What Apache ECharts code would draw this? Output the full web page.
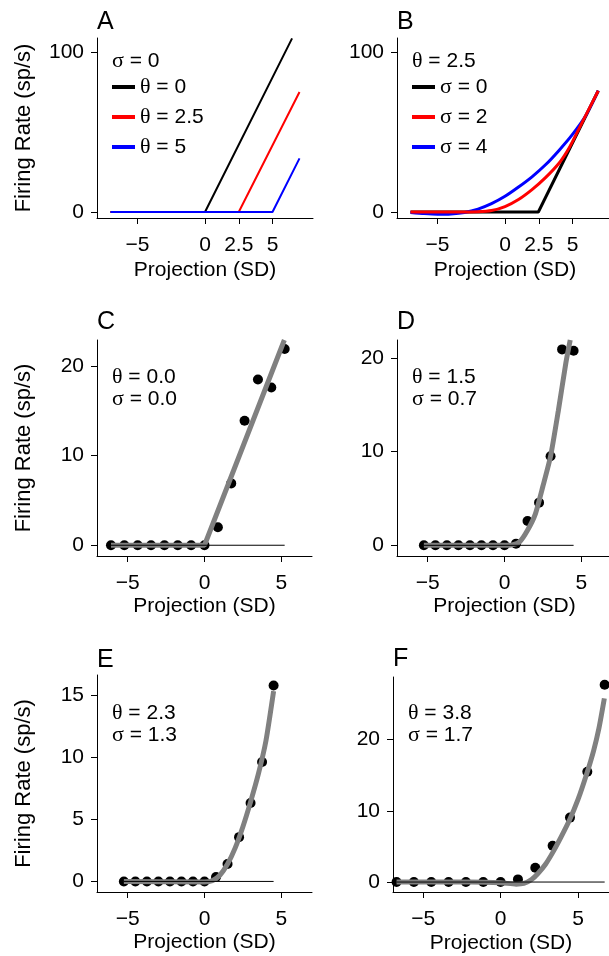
<!DOCTYPE html>
<html>
<head>
<meta charset="utf-8">
<script src="https://cdn.jsdelivr.net/npm/echarts@6/dist/echarts.min.js"></script>
<style>
  html, body { margin: 0; padding: 0; background: #fff; }
  #chart { width: 609px; height: 956px; }
</style>
</head>
<body>
<div id="chart"></div>
<script>
// ---- Panel A: threshold-linear responses, sigma = 0 ----
const aNames = ['θ = 0', 'θ = 2.5', 'θ = 5'];
const aTheta0 = [[-7, 0], [0, 0], [6.45, 108.5]];
const aTheta25 = [[-7, 0], [2.5, 0], [7, 75]];
const aTheta5 = [[-7, 0], [5, 0], [7, 33.5]];

// ---- Panel B: theta = 2.5 with increasing sigma ----
const bNames = ['σ = 0', 'σ = 2', 'σ = 4'];
const bSigma0 = [[-7, 0], [2.47, 0], [6.91, 75.8]];
const bSigma2 = [[-7, 0], [-3, 0], [-2, 0.1], [-1, 0.9], [0, 3.4], [1, 7.8], [2, 14.0], [3, 21.5],
                 [4, 30.5], [4.57, 37.5], [5, 44], [5.8, 57.4], [6.91, 75.8]];
const bSigma4 = [[-7, -0.3], [-6, -1.0], [-5, -1.4], [-4, -1.2], [-3, -0.3], [-2, 1.8], [-1, 5.2],
                 [0, 9.8], [1, 15.6], [2, 22], [3, 29.5], [4, 38.5], [5, 48.5], [6, 60.5], [6.91, 75.8]];

const abXTicks = [-5, 0, 2.5, 5];
const abYTicks = [0, 100];

// ---- Panels C-F: measured rates and fitted curves ----
const cX = [-6.09, -5.22, -4.35, -3.48, -2.61, -1.74, -0.87, 0, 0.87, 1.74, 2.61, 3.48, 4.35, 5.22];
const cY = [0, 0, 0, 0, 0, 0, 0, 0, 2.0, 6.9, 13.9, 18.5, 17.6, 21.9];
const cFit = [[-6.09, 0], [0, 0], [5.2, 22.9]];

const dX = [-5.25, -4.5, -3.75, -3, -2.25, -1.5, -0.75, 0, 0.75, 1.5, 2.25, 3, 3.75, 4.5];
const dY = [0, 0, 0, 0, 0, 0, 0, 0, 0.18, 2.6, 4.55, 9.5, 20.9, 20.75];
const dFit = [[-5.25, 0], [0, 0], [0.5, 0.05], [1.0, 0.4], [1.5, 1.6], [2.0, 3.3], [2.5, 6.3],
              [3.0, 9.5], [3.5, 14.3], [4.0, 19.5], [4.28, 21.9]];

const eX = [-5.25, -4.5, -3.75, -3, -2.25, -1.5, -0.75, 0, 0.75, 1.5, 2.25, 3, 3.75, 4.5];
const eY = [0, 0, 0, 0, 0, 0, 0, 0, 0.35, 1.4, 3.56, 6.3, 9.6, 15.75];
const eFit = [[-5.25, 0], [0, -0.05], [0.5, 0.05], [1.0, 0.5], [1.5, 1.4], [2.0, 2.7], [2.5, 4.4],
              [3.0, 6.4], [3.5, 8.6], [4.0, 11.3], [4.5, 15.3]];

const fX = [-6.72, -5.6, -4.48, -3.36, -2.24, -1.12, 0, 1.12, 2.24, 3.36, 4.48, 5.6, 6.72];
const fY = [0, 0, 0, 0, 0, 0, 0, 0.37, 2.0, 5.1, 9.05, 15.5, 27.7];
const fFit = [[-6.72, 0], [-2, 0], [0, -0.1], [1.0, -0.3], [1.5, -0.2], [2.0, 0.35], [2.41, 1.2],
              [2.9, 2.5], [3.38, 4.2], [3.9, 6.3], [4.45, 8.7], [5.0, 11.6], [5.53, 15.0],
              [6.0, 18.4], [6.35, 21.6], [6.7, 25.8]];

const cdefXTicks = [-5, 0, 5];
const cYTicks = [0, 10, 20];
const dYTicks = [0, 10, 20];
const eYTicks = [0, 5, 10, 15];
const fYTicks = [0, 10, 20];

const fitParams = [
  ['0.0', '0.0'],
  ['1.5', '0.7'],
  ['2.3', '1.3'],
  ['3.8', '1.7']
];

// ---- styling ----
const FONT = '"Liberation Sans", Arial, Helvetica, sans-serif';
const GREEK = '"Liberation Serif", "DejaVu Serif", serif';
const FS = 21;
const greekRich = { g: { fontFamily: GREEK, fontSize: 22, color: '#000' } };
const tagGreek = s => s.replace(/(θ|σ)/g, '{g|$1}');

const zip = (xs, ys) => xs.map((x, i) => [x, ys[i]]);

const grids = [
  { left: 97, top: 38, width: 216, height: 180 },   // A
  { left: 397, top: 38, width: 216, height: 180 },  // B
  { left: 97, top: 340, width: 215, height: 216 },  // C
  { left: 397, top: 340, width: 215, height: 216 }, // D
  { left: 97, top: 675, width: 215, height: 217 },  // E
  { left: 393, top: 677, width: 216, height: 215 }  // F
].map(g => Object.assign({ outerBoundsMode: 'none', containLabel: false }, g));

const axisLine = { show: true, onZero: false, lineStyle: { color: '#000', width: 1 } };

function xAxis(grid, min, max, ticks, gap) {
  return {
    type: 'value', gridIndex: grid, min: min, max: max,
    axisLine: axisLine,
    axisTick: { show: true, inside: false, length: 6, customValues: ticks, lineStyle: { color: '#000' } },
    axisLabel: { customValues: ticks, fontSize: FS, fontFamily: FONT, color: '#000', margin: 17,
                 formatter: v => (v < 0 ? '\u2212' + Math.abs(v) : String(v)) },
    splitLine: { show: false },
    name: 'Projection (SD)', nameLocation: 'middle', nameGap: gap,
    nameTextStyle: { fontSize: FS, fontFamily: FONT, color: '#000' }
  };
}

function yAxis(grid, min, max, ticks, withName) {
  return {
    type: 'value', gridIndex: grid, min: min, max: max,
    axisLine: axisLine,
    axisTick: { show: true, inside: false, length: 6, customValues: ticks, lineStyle: { color: '#000' } },
    axisLabel: { customValues: ticks, fontSize: FS, fontFamily: FONT, color: '#000', margin: 13 },
    splitLine: { show: false },
    name: withName ? 'Firing Rate (sp/s)' : '',
    nameLocation: 'middle', nameGap: 62, nameRotate: 90,
    nameTextStyle: { fontSize: 22, fontFamily: FONT, color: '#000' }
  };
}

const xAxes = [
  xAxis(0, -8, 8, abXTicks, 42),
  xAxis(1, -8, 8, abXTicks, 42),
  xAxis(2, -7, 7, cdefXTicks, 40),
  xAxis(3, -7, 7, cdefXTicks, 40),
  xAxis(4, -7, 7, cdefXTicks, 40),
  xAxis(5, -6.95, 7, cdefXTicks, 41)
];
const yAxes = [
  yAxis(0, -3.75, 108.75, abYTicks, true),
  yAxis(1, -3.75, 108.75, abYTicks, false),
  yAxis(2, -1.2, 22.9, cYTicks, true),
  yAxis(3, -1.14, 21.9, dYTicks, false),
  yAxis(4, -0.85, 16.6, eYTicks, true),
  yAxis(5, -1.4, 28.8, fYTicks, false)
];

function curve(idx, name, data, color, width, smooth) {
  return {
    type: 'line', name: name, xAxisIndex: idx, yAxisIndex: idx, data: data,
    showSymbol: false, symbol: 'none', smooth: smooth || false, clip: true,
    color: color, lineStyle: { color: color, width: width }, itemStyle: { color: color },
    silent: true, animation: false
  };
}

function fitPanel(idx, xs, ys, fit, smooth) {
  return [
    curve(idx, 'fit' + idx, fit, '#808080', 5, smooth),
    curve(idx, 'base' + idx, [[xs[0], 0], [xs[xs.length - 1], 0]], '#000', 1),
    {
      type: 'scatter', name: 'obs' + idx, xAxisIndex: idx, yAxisIndex: idx,
      data: zip(xs, ys), symbol: 'circle', symbolSize: 10,
      itemStyle: { color: '#000', opacity: 1 }, silent: true, animation: false, clip: false
    }
  ];
}

const series = [
  curve(0, aNames[0], aTheta0, '#000000', 2),
  curve(0, aNames[1], aTheta25, '#ff0000', 2),
  curve(0, aNames[2], aTheta5, '#0000ff', 2),
  curve(1, bNames[0], bSigma0, '#000000', 3),
  curve(1, bNames[2], bSigma4, '#0000ff', 3, 0.2),
  curve(1, bNames[1], bSigma2, '#ff0000', 3, 0.2)
].concat(
  fitPanel(2, cX, cY, cFit, false),
  fitPanel(3, dX, dY, dFit, 0.2),
  fitPanel(4, eX, eY, eFit, 0.2),
  fitPanel(5, fX, fY, fFit, 0.2)
);

function legendAt(left, names) {
  return {
    data: names, left: left, top: 76, orient: 'vertical', padding: 0,
    icon: 'rect', itemWidth: 23, itemHeight: 4, itemGap: 8,
    selectedMode: false,
    textStyle: { fontSize: FS, fontFamily: FONT, color: '#000', rich: greekRich },
    formatter: n => tagGreek(n)
  };
}

function label(left, top, text, size) {
  return {
    type: 'text', left: left, top: top, silent: true,
    style: { text: text, fontSize: size || FS, fontFamily: FONT, fill: '#000', rich: greekRich }
  };
}

const panelLetters = ['A', 'B', 'C', 'D', 'E', 'F'];
const letterPos = [[97, 10], [397, 10], [97, 310], [397, 310], [97, 648], [393, 647]];
const annotPos = [[112, 366], [412, 366], [112, 702], [408, 702]];

const graphics = panelLetters.map((t, i) => label(letterPos[i][0], letterPos[i][1], t, 25))
  .concat([
    label(112, 50, tagGreek('σ = 0')),
    label(412, 50, tagGreek('θ = 2.5'))
  ])
  .concat(fitParams.map((p, i) => label(annotPos[i][0], annotPos[i][1], tagGreek('θ = ' + p[0]))))
  .concat(fitParams.map((p, i) => label(annotPos[i][0], annotPos[i][1] + 22, tagGreek('σ = ' + p[1]))));

const chart = echarts.init(document.getElementById('chart'), null, { renderer: 'canvas' });
chart.setOption({
  animation: false,
  backgroundColor: '#fff',
  textStyle: { fontFamily: FONT },
  grid: grids,
  xAxis: xAxes,
  yAxis: yAxes,
  legend: [legendAt(112, aNames), legendAt(412, bNames)],
  series: series,
  graphic: graphics
});
</script>
</body>
</html>
